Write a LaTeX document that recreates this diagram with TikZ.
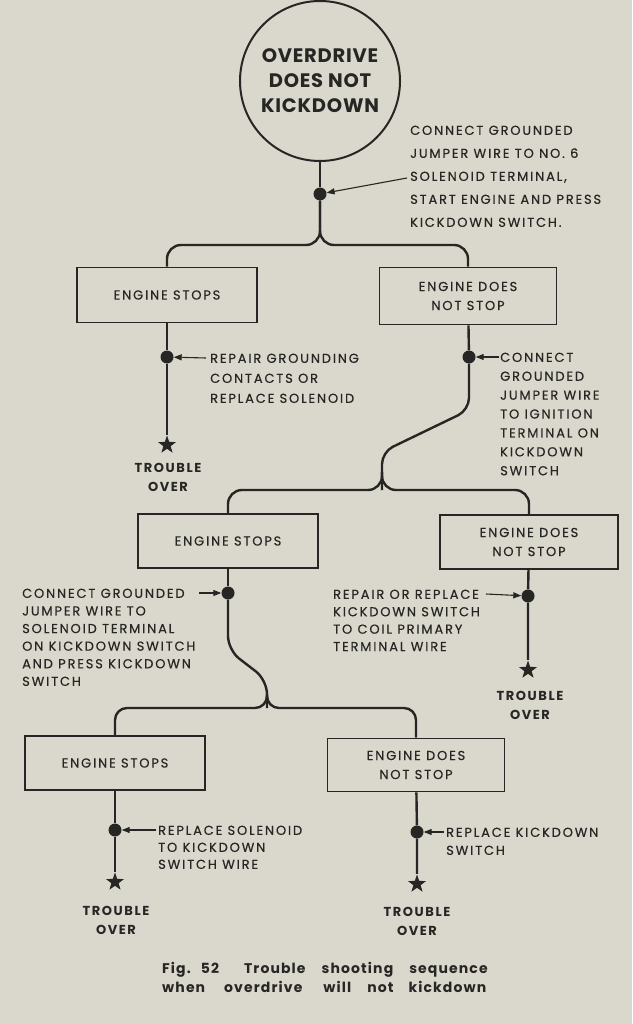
\documentclass[tikz,border=0pt]{standalone}
\usepackage{fontspec}
\setmainfont{Poppins}
\newfontfamily\labf{Poppins}[LetterSpace=14,FakeBold=0.4]
\newfontfamily\trf{Poppins}[LetterSpace=12]
\newfontfamily\topf{Poppins}[LetterSpace=4]
\newfontfamily\capf{Poppins}[LetterSpace=8]
\usetikzlibrary{arrows.meta,shapes.geometric}
\definecolor{paper}{RGB}{218,216,204}
\definecolor{ink}{RGB}{38,38,36}
\tikzset{
  wire/.style={draw=ink,line width=2.4pt},
  box/.style={draw=ink,line width=1.8pt,minimum width=180pt,minimum height=55pt,align=center,inner sep=0pt,text=ink,font=\labf\fontsize{13}{19}\selectfont},
  dot/.style={circle,fill=ink,inner sep=0pt,minimum size=13pt},
  stardot/.style={star,star points=5,star point ratio=2.5,fill=ink,inner sep=0pt,minimum size=19pt},
  lab/.style={align=left,inner sep=0pt,text=ink,anchor=north west},
  trouble/.style={align=center,inner sep=0pt,text=ink,font=\trf\bfseries\fontsize{13}{19}\selectfont},
  arr/.style={draw=ink,line width=1.1pt,-{Triangle[length=8pt,width=6pt]}},
}
\begin{document}
\begin{tikzpicture}[x=1pt,y=-1pt]
\fill[paper] (0,0) rectangle (632,1024);
\useasboundingbox (0,0) rectangle (632,1024);

% top
\node[circle,draw=ink,line width=2pt,minimum size=160pt,align=center,inner sep=0pt,text=ink,font=\topf\bfseries\fontsize{19.5}{25}\selectfont] (top) at (320,81) {OVERDRIVE\\DOES NOT\\KICKDOWN};
\node[dot] (d0) at (320,194) {};
\node[lab,font=\labf\fontsize{13}{23}\selectfont] (t0) at (410,125.5) {CONNECT GROUNDED\\JUMPER WIRE TO NO. 6\\SOLENOID TERMINAL,\\START ENGINE AND PRESS\\KICKDOWN SWITCH.};
\coordinate (a0) at (407,178);
\draw[arr] (a0) -- (d0);
\coordinate (s0) at (320,245);

% level A
\node[box] (a1) at (167,295) {ENGINE STOPS};
\node[box,minimum width=177pt,minimum height=57pt] (a2) at (468,296) {ENGINE DOES\\NOT STOP};
\draw[wire] (top) -- (d0);
\draw[wire,rounded corners=14pt] (d0) -- (s0) -| (a1.north);
\draw[wire,rounded corners=14pt] (d0) -- (s0) -| (a2.north);

\node[dot] (da1) at (167,357) {};
\node[lab,font=\labf\fontsize{13}{20}\selectfont] (ta1) at (210,353.5) {REPAIR GROUNDING\\CONTACTS OR\\REPLACE SOLENOID};
\coordinate (aa1) at (206,358);
\draw[arr] (aa1) -- (da1);
\node[stardot] (sa1) at (167,445) {};
\node[trouble] (ta1t) at (168,477) {TROUBLE\\OVER};
\draw[wire] (a1) -- (da1) -- (sa1);

\node[dot] (da2) at (469,357) {};
\node[lab,font=\labf\fontsize{13}{18.9}\selectfont] (ta2) at (500,352.5) {CONNECT\\GROUNDED\\JUMPER WIRE\\TO IGNITION\\TERMINAL ON\\KICKDOWN\\SWITCH};
\coordinate (aa2) at (499,357);
\draw[arr] (aa2) -- (da2);
\coordinate (ka) at (469,410);
\coordinate (kb) at (382,452);
\coordinate (kbb) at (382,472);
\coordinate (s1) at (382,490);

% level B
\node[box,minimum height=54pt] (b1) at (228,541) {ENGINE STOPS};
\node[box,minimum width=178pt,minimum height=54pt] (b2) at (529,542) {ENGINE DOES\\NOT STOP};
\draw[wire] (a2) -- (da2);
\draw[wire,rounded corners=12pt] (da2) -- (ka) -- (kb) -- (s1);
\draw[wire,rounded corners=14pt] (kbb) -- (s1) -| (b1.north);
\draw[wire,rounded corners=14pt] (kbb) -- (s1) -| (b2.north);

\node[dot] (db1) at (228,593) {};
\node[lab,font=\labf\fontsize{13}{17.6}\selectfont] (tb1) at (22,588.5) {CONNECT GROUNDED\\JUMPER WIRE TO\\SOLENOID TERMINAL\\ON KICKDOWN SWITCH\\AND PRESS KICKDOWN\\SWITCH};
\coordinate (ab1) at (199,593);
\draw[arr] (ab1) -- (db1);
\coordinate (kc) at (228,650);
\coordinate (kd) at (267,680);
\coordinate (kdd) at (267,694);
\coordinate (s2) at (267,708);

\node[dot] (db2) at (528,596) {};
\node[lab,font=\labf\fontsize{13}{17.4}\selectfont] (tb2) at (333,589.5) {REPAIR OR REPLACE\\KICKDOWN SWITCH\\TO COIL PRIMARY\\TERMINAL WIRE};
\coordinate (ab2) at (486,594);
\draw[arr] (ab2) -- (db2);
\node[stardot] (sb2) at (528,670) {};
\node[trouble] (tb2t) at (530,705) {TROUBLE\\OVER};
\draw[wire] (b2) -- (db2) -- (sb2);

% level C
\node[box,minimum height=54pt] (c1) at (115,763) {ENGINE STOPS};
\node[box,minimum width=177pt,minimum height=53pt] (c2) at (416,765) {ENGINE DOES\\NOT STOP};
\draw[wire] (b1) -- (db1);
\draw[wire,rounded corners=14pt] (db1) -- (kc) -- (kd) -- (s2);
\draw[wire,rounded corners=12pt] (kdd) -- (s2) -| (c1.north);
\draw[wire,rounded corners=12pt] (kdd) -- (s2) -| (c2.north);

\node[dot] (dc1) at (115,830) {};
\node[lab,font=\labf\fontsize{13}{17}\selectfont] (tc1) at (158,825.5) {REPLACE SOLENOID\\TO KICKDOWN\\SWITCH WIRE};
\coordinate (ac1) at (156,830);
\draw[arr] (ac1) -- (dc1);
\node[stardot] (sc1) at (115,882) {};
\node[trouble] (tc1t) at (116,920) {TROUBLE\\OVER};
\draw[wire] (c1) -- (dc1) -- (sc1);

\node[dot] (dc2) at (417,832) {};
\node[lab,font=\labf\fontsize{13}{18}\selectfont] (tc2) at (446,827.5) {REPLACE KICKDOWN\\SWITCH};
\coordinate (ac2) at (444,832);
\draw[arr] (ac2) -- (dc2);
\node[stardot] (sc2) at (417,884) {};
\node[trouble] (tc2t) at (417,921) {TROUBLE\\OVER};
\draw[wire] (c2) -- (dc2) -- (sc2);

% caption
\node[inner sep=0pt,text=ink,align=left,anchor=west,font=\capf\bfseries\fontsize{14}{19}\selectfont] (cap) at (162,977)
  {Fig.\hspace{10pt}52\hspace{25pt}Trouble\hspace{16pt}shooting\hspace{16pt}sequence\\
   when\hspace{19pt}overdrive\hspace{21pt}will\hspace{16pt}not\hspace{15pt}kickdown};
\end{tikzpicture}
\end{document}
